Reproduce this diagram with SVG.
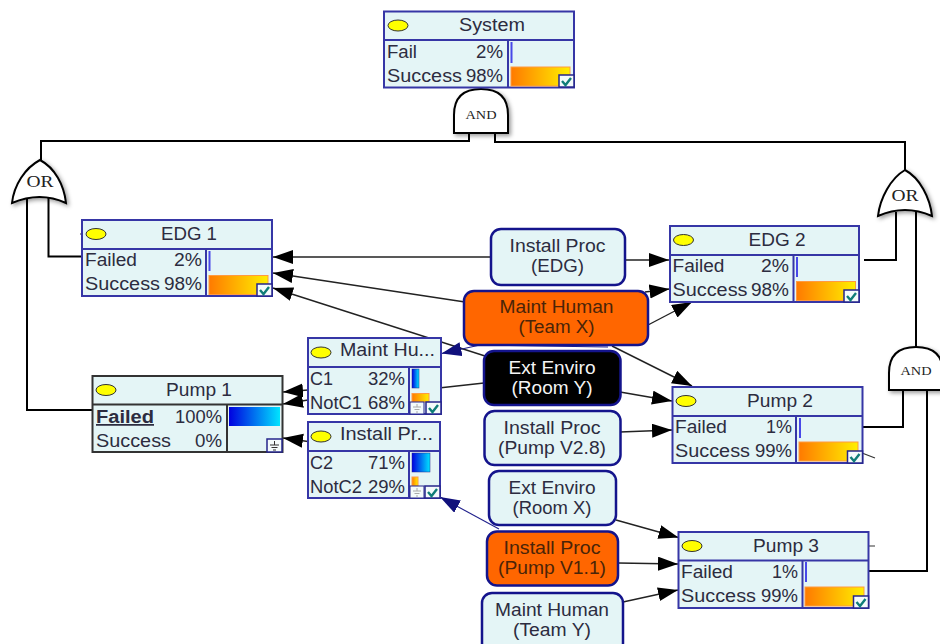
<svg xmlns="http://www.w3.org/2000/svg" xmlns:xlink="http://www.w3.org/1999/xlink" width="940" height="644" viewBox="0 0 940 644">
<style>
text{font-family:"Liberation Sans",Arial,sans-serif;font-size:17.500px;fill:#2c2c40}
.box{fill:#e4f5f6;stroke:#3636a6;stroke-width:2}
.dark{fill:#e4f5f6;stroke:#333;stroke-width:2}
.div{fill:none;stroke:#3636a6;stroke-width:2}
.divd{fill:none;stroke:#333;stroke-width:2}
.rnd{fill:#e4f5f6;stroke:#14148c;stroke-width:2.5}
.org{fill:#ff6600;stroke:#14148c;stroke-width:2.5}
.blk{fill:#000;stroke:#14148c;stroke-width:2.5}
.oval{fill:#ffff00;stroke:#333;stroke-width:1}
.tick{fill:#4848e8}
.ob{fill:url(#og);stroke:#ff9a40;stroke-width:1}
.bb{fill:url(#bg)}
.mid{text-anchor:middle}
.end{text-anchor:end}
.ot{fill:#4a2408}
.wt{fill:#f4f4f4}
.gate{fill:#fff;stroke:#000;stroke-width:2;filter:url(#sh)}
.gt{font-family:"Liberation Serif",serif;text-anchor:middle;fill:#222}
.wire{fill:none;stroke:#000;stroke-width:2}
.arc{fill:none;stroke:#222;stroke-width:1.4;marker-end:url(#ah)}
.arb{fill:none;stroke:#20208c;stroke-width:1.1;marker-end:url(#ab)}
.stub{fill:none;stroke:#333;stroke-width:1.2}
</style>
<defs>
<linearGradient id="og"><stop offset="0" stop-color="#ff7a00"/><stop offset="1" stop-color="#fff000"/></linearGradient>
<linearGradient id="bg"><stop offset="0" stop-color="#0000e0"/><stop offset="1" stop-color="#00e4ff"/></linearGradient>
<filter id="sh" x="-20%" y="-20%" width="150%" height="150%"><feDropShadow dx="2" dy="2" stdDeviation="2" flood-color="#000" flood-opacity="0.4"/></filter>
<marker id="ah" markerUnits="userSpaceOnUse" markerWidth="22" markerHeight="16" refX="20" refY="7" orient="auto"><path d="M0,0L20,7L0,14z" fill="#000"/></marker>
<marker id="ab" markerUnits="userSpaceOnUse" markerWidth="22" markerHeight="16" refX="20" refY="7" orient="auto"><path d="M0,0L20,7L0,14z" fill="#10107c"/></marker>
<g id="chk"><rect x="0" y="0" width="15" height="12" fill="#f4fbfb" stroke="#26268c" stroke-width="1.5"/><path d="M3,6L6.500,10L12,3" fill="none" stroke="#0f7d78" stroke-width="2.400"/></g>
<g id="gnd"><rect x="0" y="0" width="15" height="13" fill="#f4fbfb" stroke="#26268c" stroke-width="1.5"/><path d="M7.500,2V6M3,6H12M4.500,8.500H10.500M6,11H9" fill="none" stroke="#333" stroke-width="1"/></g>
<g id="gndg"><rect x="0" y="0" width="14" height="12" fill="#f4fbfb" stroke="#26268c" stroke-width="1"/><path d="M7,2V5M3,5H11M4.500,7.500H9.500M6,10H8" fill="none" stroke="#aaa" stroke-width="1"/></g>
</defs>
<rect width="940" height="644" fill="#fff"/>

<g id="connectors">
<path class="wire" d="M469,133V141H41V160"/>
<path class="wire" d="M495,133V142H905V170"/>
<path class="wire" d="M481,87V89"/>
<path class="wire" d="M27,198V410H92"/>
<path class="wire" d="M48.500,197V256.500H82"/>
<path class="wire" d="M896,212V260H864"/>
<path class="wire" d="M916,212V347"/>
<path class="wire" d="M903,390V427H860"/>
<path class="wire" d="M927,390V571H866"/>
<path class="stub" d="M862,453L875,458M868,546H875M80,234H82"/>
<path class="arc" d="M491,257H273"/>
<path class="arc" d="M625,260H669"/>
<path class="arc" d="M465,302L273,273"/>
<path class="arc" d="M645,292L669.500,289"/>
<path class="arc" d="M648,325L692,302"/>
<path class="arc" d="M612,346L692,386"/>
<path class="arc" d="M485,356L273,288"/>
<path class="stub" style="stroke:#222;stroke-width:1.400" d="M484,383L441,387.700"/>
<path class="arc" d="M620,392L672,401"/>
<path class="arc" d="M620,432L672,430"/>
<path class="arc" d="M308,390L283,392"/>
<path class="arc" d="M308,400L283,404"/>
<path class="arc" d="M308,441.500L283,438"/>
<path class="arc" d="M616,520L678.500,537.500"/>
<path class="arc" d="M618,563L678,564"/>
<path class="arc" d="M623,602L678,590"/>
<path class="arb" d="M608,347L480,345L441.500,353.500"/>
<path class="arb" d="M499,529L440,497"/>
</g>

<g id="gate-and-top"><path class="gate" d="M454,133V115Q454,89 481,89Q508,89 508,115V133Z"/><text class="gt" x="481" y="119" style="font-size:13px" textLength="31" lengthAdjust="spacingAndGlyphs">AND</text></g>
<g id="gate-or-left"><path class="gate" d="M12,203C14,185 25,168 40,160C55,168 64,185 66,203Q40,191 12,203Z"/><text class="gt" x="40" y="187" style="font-size:16px" textLength="27" lengthAdjust="spacingAndGlyphs">OR</text></g>
<g id="gate-or-right"><path class="gate" d="M878,216C880,198 891,178 905,170C920,178 930,198 932,216Q905,204 878,216Z"/><text class="gt" x="905" y="201" style="font-size:16px" textLength="27" lengthAdjust="spacingAndGlyphs">OR</text></g>
<g id="gate-and-right"><path class="gate" d="M889,390V373Q889,347 916,347Q943,347 943,373V390Z"/><text class="gt" x="916" y="375" style="font-size:13px" textLength="31" lengthAdjust="spacingAndGlyphs">AND</text></g>

<g id="system">
<rect class="box" x="384" y="11.500" width="190" height="76"/><path class="div" d="M384,40H574M508,40V87.500"/>
<ellipse class="oval" cx="398" cy="25.500" rx="10" ry="5.500"/>
<text class="mid" x="492" y="31" textLength="66" lengthAdjust="spacingAndGlyphs">System</text>
<text x="387" y="58" textLength="30" lengthAdjust="spacingAndGlyphs">Fail</text><text class="end" x="503" y="58" textLength="27" lengthAdjust="spacingAndGlyphs">2%</text>
<text x="387" y="82" textLength="75" lengthAdjust="spacingAndGlyphs">Success</text><text class="end" x="503" y="82" textLength="37" lengthAdjust="spacingAndGlyphs">98%</text>
<rect class="tick" x="510.500" y="42" width="2" height="21"/><rect class="ob" x="511" y="67" width="59" height="19"/><use href="#chk" x="559" y="75"/>
</g>

<g id="edg1">
<rect class="box" x="82" y="220" width="190" height="76"/><path class="div" d="M82,249H272M206,249V296"/>
<ellipse class="oval" cx="96" cy="234" rx="10" ry="5.500"/>
<text class="mid" x="189" y="240" textLength="56" lengthAdjust="spacingAndGlyphs">EDG 1</text>
<text x="85" y="266" textLength="52" lengthAdjust="spacingAndGlyphs">Failed</text><text class="end" x="202" y="266" textLength="28" lengthAdjust="spacingAndGlyphs">2%</text>
<text x="85" y="290" textLength="75" lengthAdjust="spacingAndGlyphs">Success</text><text class="end" x="202" y="290" textLength="38" lengthAdjust="spacingAndGlyphs">98%</text>
<rect class="tick" x="208.500" y="251" width="2" height="20"/><rect class="ob" x="209" y="275.500" width="59" height="19"/><use href="#chk" x="257" y="284"/>
</g>

<g id="edg2">
<rect class="box" x="670" y="226" width="189" height="76"/><path class="div" d="M670,255H859M793.500,255V302"/>
<ellipse class="oval" cx="683.500" cy="240" rx="10" ry="5.500"/>
<text class="mid" x="777" y="246" textLength="57" lengthAdjust="spacingAndGlyphs">EDG 2</text>
<text x="672.500" y="272" textLength="52" lengthAdjust="spacingAndGlyphs">Failed</text><text class="end" x="789" y="272" textLength="28" lengthAdjust="spacingAndGlyphs">2%</text>
<text x="672.500" y="296" textLength="75" lengthAdjust="spacingAndGlyphs">Success</text><text class="end" x="789" y="296" textLength="38" lengthAdjust="spacingAndGlyphs">98%</text>
<rect class="tick" x="796" y="257" width="2" height="20"/><rect class="ob" x="796.500" y="281.500" width="59" height="19"/><use href="#chk" x="844" y="290"/>
</g>

<g id="pump1">
<rect class="dark" x="92.500" y="376" width="190" height="76"/><path class="divd" d="M92.500,404.500H282.500M227,404.500V452"/>
<ellipse class="oval" cx="106" cy="390" rx="10" ry="5.500"/>
<text class="mid" x="199" y="396" textLength="66" lengthAdjust="spacingAndGlyphs">Pump 1</text>
<text x="96" y="423" style="font-weight:bold;text-decoration:underline" textLength="58" lengthAdjust="spacingAndGlyphs">Failed</text><text class="end" x="222" y="423" textLength="47" lengthAdjust="spacingAndGlyphs">100%</text>
<text x="96" y="447" textLength="75" lengthAdjust="spacingAndGlyphs">Success</text><text class="end" x="222" y="447" textLength="27" lengthAdjust="spacingAndGlyphs">0%</text>
<rect class="bb" x="229" y="407" width="51" height="19"/><use href="#gnd" x="267" y="439"/>
</g>

<g id="maint-hu">
<rect class="box" x="308" y="338" width="133" height="76"/><path class="div" d="M308,367H441M409,367V414"/>
<ellipse class="oval" cx="321" cy="352.500" rx="10" ry="5.500"/>
<text x="340" y="356" textLength="95" lengthAdjust="spacingAndGlyphs">Maint Hu...</text>
<text x="310" y="385" textLength="23" lengthAdjust="spacingAndGlyphs">C1</text><text class="end" x="405" y="385" textLength="37" lengthAdjust="spacingAndGlyphs">32%</text>
<text x="310" y="409" textLength="52" lengthAdjust="spacingAndGlyphs">NotC1</text><text class="end" x="405" y="409" textLength="37" lengthAdjust="spacingAndGlyphs">68%</text>
<rect class="bb" x="412" y="369" width="7" height="19" stroke="#26268c" stroke-width="0.500"/><rect class="ob" x="412" y="393.500" width="17" height="8.500"/><use href="#gndg" x="410" y="402"/><use href="#chk" x="426" y="402"/>
</g>

<g id="install-pr">
<rect class="box" x="308" y="422" width="132" height="76"/><path class="div" d="M308,451H440M409,451V498"/>
<ellipse class="oval" cx="321" cy="436.500" rx="10" ry="5.500"/>
<text x="340" y="440" textLength="93" lengthAdjust="spacingAndGlyphs">Install Pr...</text>
<text x="310" y="469" textLength="23" lengthAdjust="spacingAndGlyphs">C2</text><text class="end" x="405" y="469" textLength="37" lengthAdjust="spacingAndGlyphs">71%</text>
<text x="310" y="493" textLength="52" lengthAdjust="spacingAndGlyphs">NotC2</text><text class="end" x="405" y="493" textLength="37" lengthAdjust="spacingAndGlyphs">29%</text>
<rect class="bb" x="412" y="453" width="18" height="19" stroke="#26268c" stroke-width="0.500"/><rect class="ob" x="412" y="477" width="6" height="9"/><use href="#gndg" x="410" y="486"/><use href="#chk" x="425" y="486"/>
</g>

<g id="pump2">
<rect class="box" x="672.500" y="387" width="190" height="76"/><path class="div" d="M672.500,416H862.500M796,416V463"/>
<ellipse class="oval" cx="686" cy="401" rx="10" ry="5.500"/>
<text class="mid" x="780" y="407" textLength="66" lengthAdjust="spacingAndGlyphs">Pump 2</text>
<text x="675" y="433" textLength="52" lengthAdjust="spacingAndGlyphs">Failed</text><text class="end" x="792" y="433" textLength="26" lengthAdjust="spacingAndGlyphs">1%</text>
<text x="675" y="457" textLength="75" lengthAdjust="spacingAndGlyphs">Success</text><text class="end" x="792" y="457" textLength="37" lengthAdjust="spacingAndGlyphs">99%</text>
<rect class="tick" x="799" y="418" width="2" height="20"/><rect class="ob" x="799" y="442" width="59" height="19"/><use href="#chk" x="847.500" y="451"/>
</g>

<g id="pump3">
<rect class="box" x="678.500" y="532" width="190" height="76"/><path class="div" d="M678.500,560.500H868.500M802.500,560.500V608"/>
<ellipse class="oval" cx="692" cy="546" rx="10" ry="5.500"/>
<text class="mid" x="786" y="552" textLength="66" lengthAdjust="spacingAndGlyphs">Pump 3</text>
<text x="681" y="578" textLength="52" lengthAdjust="spacingAndGlyphs">Failed</text><text class="end" x="798" y="578" textLength="26" lengthAdjust="spacingAndGlyphs">1%</text>
<text x="681" y="602" textLength="75" lengthAdjust="spacingAndGlyphs">Success</text><text class="end" x="798" y="602" textLength="37" lengthAdjust="spacingAndGlyphs">99%</text>
<rect class="tick" x="805" y="562" width="2" height="20"/><rect class="ob" x="805" y="587" width="59" height="19"/><use href="#chk" x="853.500" y="596"/>
</g>

<g id="install-edg"><rect class="rnd" x="491" y="229" width="134" height="56" rx="10"/><text class="mid" x="557.500" y="252" textLength="96" lengthAdjust="spacingAndGlyphs">Install Proc</text><text class="mid" x="557.500" y="272" textLength="53" lengthAdjust="spacingAndGlyphs">(EDG)</text></g>
<g id="maint-x"><rect class="org" x="464" y="291" width="184" height="54" rx="10"/><text class="mid ot" x="556.500" y="313" textLength="114" lengthAdjust="spacingAndGlyphs">Maint Human</text><text class="mid ot" x="556.500" y="333" textLength="76" lengthAdjust="spacingAndGlyphs">(Team X)</text></g>
<g id="ext-y"><rect class="blk" x="484" y="351" width="136.500" height="54" rx="10"/><text class="mid wt" x="552" y="374" textLength="87" lengthAdjust="spacingAndGlyphs">Ext Enviro</text><text class="mid wt" x="552" y="394" textLength="81" lengthAdjust="spacingAndGlyphs">(Room Y)</text></g>
<g id="install-v28"><rect class="rnd" x="484.500" y="411" width="136" height="54" rx="10"/><text class="mid" x="552" y="434" textLength="97" lengthAdjust="spacingAndGlyphs">Install Proc</text><text class="mid" x="552" y="454" textLength="108" lengthAdjust="spacingAndGlyphs">(Pump V2.8)</text></g>
<g id="ext-x"><rect class="rnd" x="489" y="471" width="127" height="54" rx="10"/><text class="mid" x="552" y="494" textLength="87" lengthAdjust="spacingAndGlyphs">Ext Enviro</text><text class="mid" x="552" y="514" textLength="79" lengthAdjust="spacingAndGlyphs">(Room X)</text></g>
<g id="install-v11"><rect class="org" x="487" y="531.500" width="131" height="54" rx="10"/><text class="mid ot" x="552" y="554" textLength="97" lengthAdjust="spacingAndGlyphs">Install Proc</text><text class="mid ot" x="552" y="574" textLength="108" lengthAdjust="spacingAndGlyphs">(Pump V1.1)</text></g>
<g id="maint-y"><rect class="rnd" x="482" y="593" width="141" height="60" rx="10"/><text class="mid" x="552" y="616" textLength="114" lengthAdjust="spacingAndGlyphs">Maint Human</text><text class="mid" x="552" y="636" textLength="78" lengthAdjust="spacingAndGlyphs">(Team Y)</text></g>
</svg>
